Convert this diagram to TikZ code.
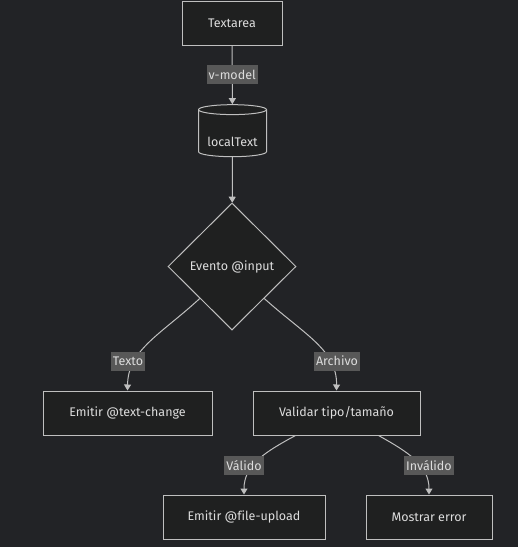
\documentclass[tikz,border=0pt]{standalone}
\usepackage{fontspec}
\setmainfont[Ligatures=NoCommon]{Fira Sans}
\usetikzlibrary{shapes.geometric,arrows.meta,calc}
\definecolor{bg}{HTML}{222326}
\definecolor{boxfill}{HTML}{1F2020}
\definecolor{boxline}{HTML}{BFBFBF}
\definecolor{lblfill}{HTML}{585858}
\definecolor{txt}{HTML}{DDDDDD}
\tikzset{
  bx/.style={rectangle, draw=boxline, fill=boxfill, text=txt, minimum height=44pt, text centered, line width=1pt},
  db/.style={cylinder, shape border rotate=90, aspect=0.19, draw=boxline, fill=boxfill, text=txt, minimum width=68pt, minimum height=52pt, inner sep=1pt, text height=28pt, text depth=3pt, line width=1pt},
  ch/.style={diamond, draw=boxline, fill=boxfill, text=txt, minimum width=128pt, minimum height=127pt, inner sep=0pt, line width=1pt},
  lbl/.style={fill=lblfill, text=txt, inner sep=2pt, minimum height=19pt},
  ar/.style={draw=boxline, line width=1pt, -{Triangle[length=6pt,width=7pt]}}
}
\begin{document}
\begin{tikzpicture}[x=1pt, y=-1pt, font=\fontsize{12.5}{15}\selectfont]
\fill[bg] (0,0) rectangle (518,547);
\node[bx, minimum width=100pt] (ta) at (232,23) {Textarea};
\node[db] (lt) at (232.5,134) {localText};
\node[ch] (ev) at (232,266.5) {Evento @input};
\node[bx, minimum width=169pt] (tc) at (127.5,413) {Emitir @text-change};
\node[bx, minimum width=167pt] (vt) at (336.5,413) {Validar tipo/tamaño};
\node[bx, minimum width=162pt] (fu) at (244,517) {Emitir @file-upload};
\node[bx, minimum width=126pt] (me) at (429,517) {Mostrar error};
% conectores
\path
(ta) edge[ar] node[lbl] {v-model} (lt)
(lt) edge[ar] (ev);
\draw[ar] (ev.south west) .. controls (160,335) and (128,350) .. (tc.north);
\draw[ar] (ev.south east) .. controls (305,335) and (337,350) .. (vt.north);
\draw[ar] ([xshift=-41pt]vt.south) .. controls (265,452) and (244,465) .. (fu.north);
\draw[ar] ([xshift=42pt]vt.south) .. controls (408,452) and (429,465) .. (me.north);
% etiquetas
\node[lbl] (lTexto) at (128,361) {Texto};
\node[lbl] (lArchivo) at (337,361) {Archivo};
\node[lbl] (lValido) at (244,465.5) {Válido};
\node[lbl] (lInvalido) at (429,465.5) {Inválido};
\end{tikzpicture}
\end{document}
